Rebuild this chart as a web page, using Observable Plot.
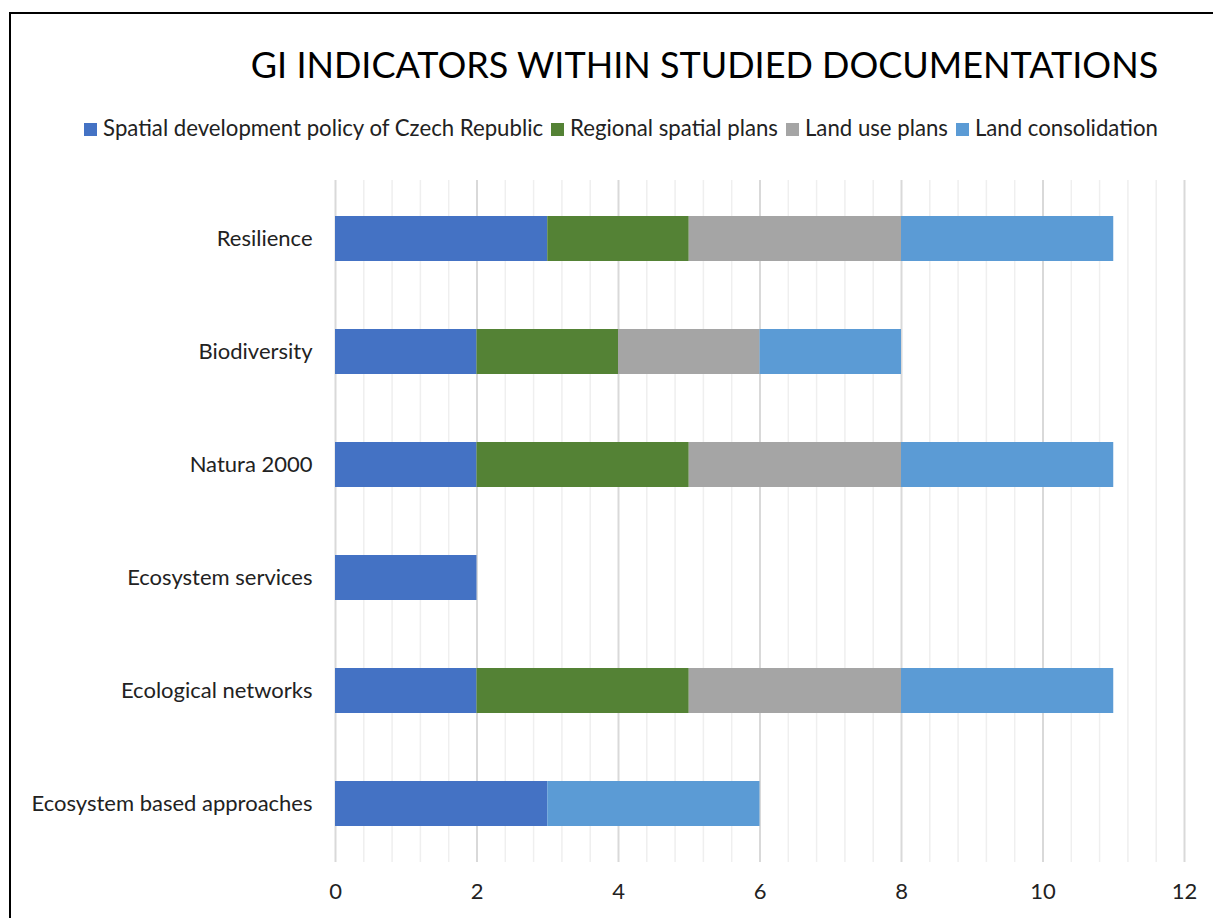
<!DOCTYPE html>
<html>
<head>
<meta charset="utf-8">
<script src="https://cdn.jsdelivr.net/npm/d3@7"></script>
<script src="https://cdn.jsdelivr.net/npm/@observablehq/plot@0.6"></script>
<style>
  html, body { margin: 0; padding: 0; background: #fff; overflow: hidden; width: 1213px; height: 918px; }
  #frame { position: absolute; left: 9px; top: 12px; width: 1400px; height: 1100px; border: 2.5px solid #000; box-sizing: border-box; }
  #title { position: absolute; left: 0; width: 1409px; top: 42px; text-align: center; font-family: Lato, "Open Sans", sans-serif; font-size: 36px; color: #000; white-space: nowrap; }
  #legend { position: absolute; left: 0; width: 1242px; top: 114px; text-align: center; font-family: Lato, "Open Sans", sans-serif; font-size: 22.2px; color: #222; white-space: nowrap; }
  #legend span.item { display: inline-block; margin: 0 4px; }
  #legend span.sw { display: inline-block; width: 13px; height: 13px; margin-right: 6px; vertical-align: 0px; }
  #chart { position: absolute; left: 0; top: 150px; }
</style>
</head>
<body>
<div id="frame"></div>
<div id="title">GI INDICATORS WITHIN STUDIED DOCUMENTATIONS</div>
<div id="legend"></div>
<div id="chart"></div>
<script>
const categories = ["Resilience", "Biodiversity", "Natura 2000", "Ecosystem services", "Ecological networks", "Ecosystem based approaches"];
const seriesNames = ["Spatial development policy of Czech Republic", "Regional spatial plans", "Land use plans", "Land consolidation"];
const seriesColors = ["#4472C4", "#548235", "#A5A5A5", "#5B9BD5"];
const spatialPolicy = [3, 2, 2, 2, 2, 3];
const regionalPlans = [2, 2, 3, 0, 3, 0];
const landUsePlans = [3, 2, 3, 0, 3, 0];
const landConsolidation = [3, 2, 3, 0, 3, 3];
const xTicks = [0, 2, 4, 6, 8, 10, 12];
const minorTicks = d3.range(0, 61).map(i => i * 0.4).filter(v => v <= 12.0001 && Math.abs(v / 2 - Math.round(v / 2)) > 1e-6);

const seriesValues = [spatialPolicy, regionalPlans, landUsePlans, landConsolidation];
const data = [];
categories.forEach((c, i) => {
  seriesNames.forEach((s, j) => {
    data.push({category: c, series: s, value: seriesValues[j][i]});
  });
});

const legend = document.getElementById("legend");
seriesNames.forEach((s, j) => {
  const item = document.createElement("span");
  item.className = "item";
  const sw = document.createElement("span");
  sw.className = "sw";
  sw.style.background = seriesColors[j];
  item.appendChild(sw);
  item.appendChild(document.createTextNode(s));
  legend.appendChild(item);
});

const chart = Plot.plot({
  width: 1213,
  height: 768,
  marginLeft: 335,
  marginRight: 29,
  marginTop: 30,
  marginBottom: 56,
  style: {fontFamily: "Lato, 'Open Sans', sans-serif", fontSize: "22px", color: "#222", background: "transparent"},
  x: {domain: [0, 12], label: null},
  y: {domain: categories, label: null, paddingInner: 0.6, paddingOuter: 0.3},
  color: {domain: seriesNames, range: seriesColors},
  marks: [
    Plot.ruleX(minorTicks, {stroke: "#efefef", strokeWidth: 1.5}),
    Plot.ruleX(xTicks, {stroke: "#d9d9d9", strokeWidth: 2}),
    Plot.barX(data, Plot.stackX({y: "category", x: "value", fill: "series"})),
    Plot.axisX({ticks: xTicks, tickSize: 0, tickPadding: 21, fontSize: 22, label: null}),
    Plot.axisY({tickSize: 0, tickPadding: 23, fontSize: 22, label: null})
  ]
});
document.getElementById("chart").appendChild(chart);
</script>
</body>
</html>
